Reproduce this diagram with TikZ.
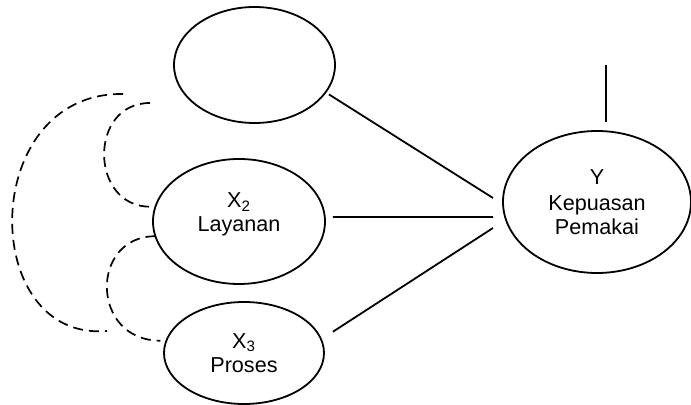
\documentclass[tikz,border=0pt]{standalone}
\usepackage{fontspec}
\setmainfont{Liberation Sans}
\usetikzlibrary{shapes.geometric,calc}
\tikzset{
  latent/.style={
    draw, ellipse, line width=0.9pt, inner sep=0pt, outer sep=0pt,
    align=center, font=\fontsize{10.8}{12}\selectfont
  },
  link/.style={draw, line width=0.9pt},
  corr/.style={draw, line width=0.85pt, dash pattern=on 5pt off 3pt}
}
\begin{document}
\begin{tikzpicture}[x=0.5pt, y=-0.5pt]
  \useasboundingbox (0,0) rectangle (691,405);

  % latent variables
  \node[latent, minimum width=80.5pt, minimum height=58pt] (X1) at (254.5,65) {};
  \node[latent, minimum width=86pt, minimum height=62.5pt, text depth=9pt] (X2) at (239,221.5)
    {X\textsubscript{2}\\Layanan};
  \node[latent, minimum width=80pt, minimum height=51pt] (X3) at (244,353)
    {X\textsubscript{3}\\Proses};
  \node[latent, minimum width=94pt, minimum height=71pt] (Y) at (597,202)
    {Y\\[1pt]Kepuasan\\Pemakai};

  % end points near Y
  \coordinate (y1) at ($(Y.west)+(-10,-4)$);
  \coordinate (y2) at ($(Y.west)+(-10,15)$);
  \coordinate (y3) at ($(Y.west)+(-10,26)$);
  \coordinate (e) at ($(Y.north)+(9,-66)$);

  % paths
  \draw[link, shorten <=2pt] (X1.-21) -- (y1);
  \draw[link, shorten <=4pt] (X2.3) -- (y2);
  \draw[link, shorten <=7pt] (X3.10) -- (y3);
  \draw[link, shorten >=4.5pt] (e) -- (e |- Y.north);

  % correlations
  \coordinate (c1) at ($(X1.west)+(-51,29)$);
  \coordinate (c2) at ($(X1.west)+(-24,38)$);
  \coordinate (c3) at ($(X3.west)+(-57,-22)$);
  \draw[corr, shorten >=2.5pt] (c2) .. controls +(-62,0) and +(-66,0) .. (X2.170);
  \draw[corr, shorten >=3pt] (X2.190) .. controls +(-66,0) and +(-76,0) .. (X3.171);
  \draw[corr] (c1) .. controls +(-145,-2) and +(-129,11) .. (c3);
\end{tikzpicture}
\end{document}
